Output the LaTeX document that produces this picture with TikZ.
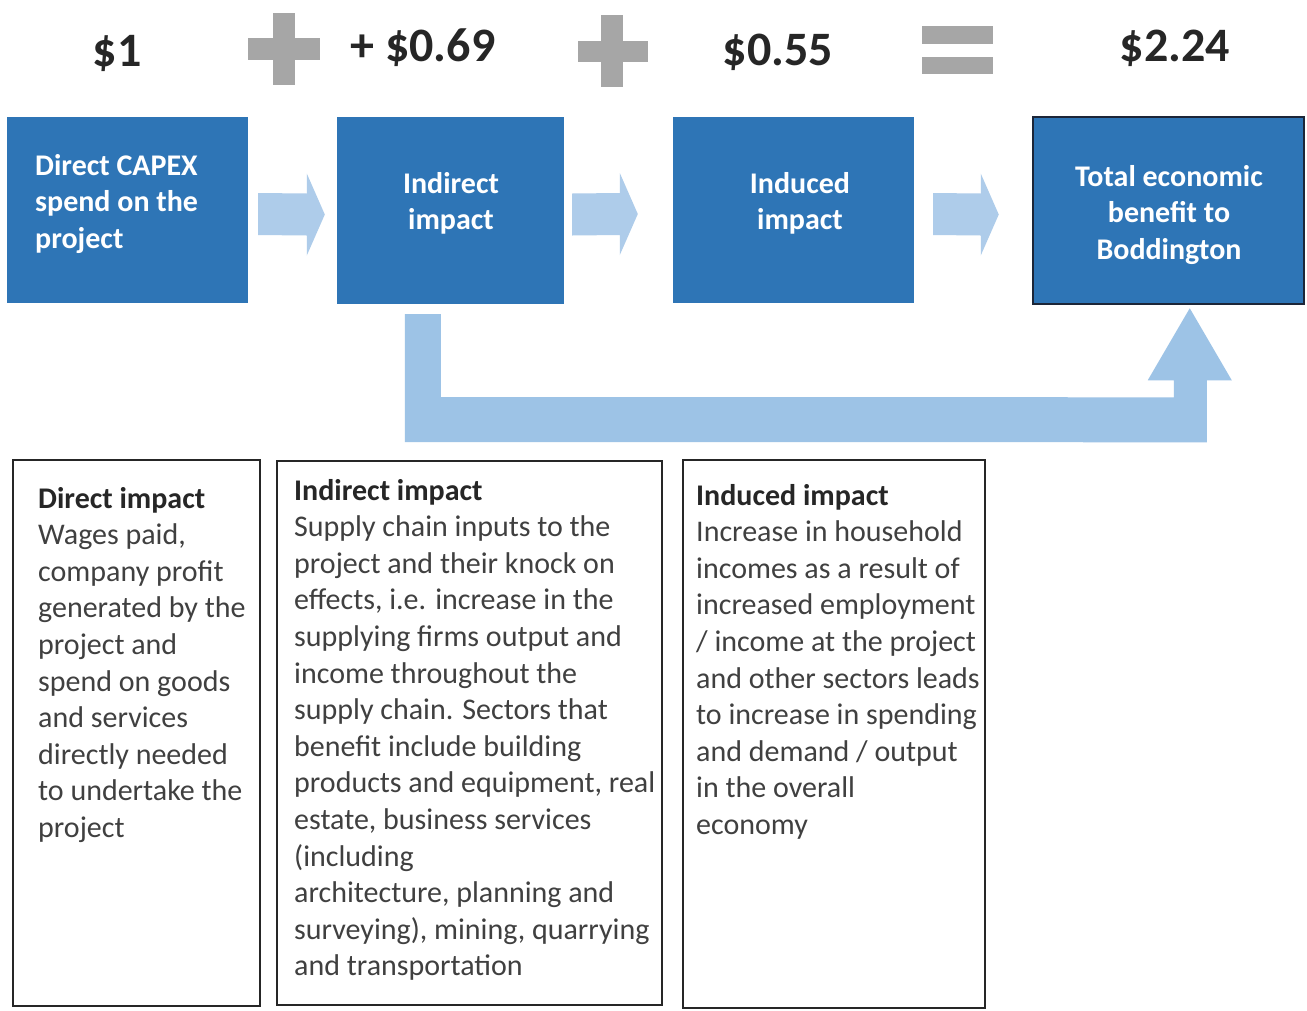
\documentclass[tikz,border=0pt]{standalone}
\usepackage{fontspec}
\setmainfont{Carlito}
\usetikzlibrary{calc}

\definecolor{boxblue}{HTML}{2E75B6}
\definecolor{flowblue}{HTML}{AECCEA}
\definecolor{loopblue}{HTML}{9DC3E6}
\definecolor{signgray}{HTML}{A6A6A6}
\definecolor{bodygray}{HTML}{404040}
\definecolor{headgray}{HTML}{262626}
\definecolor{framenavy}{HTML}{1C2638}

% block arrow pointing right, from #1 (tail middle) to #2 (tip)
\newcommand\flowarrow[2]{%
  \fill[flowblue] ($(#1)+(0,-21)$) -- ($(#2)+(-18,-21)$) -- ($(#2)+(-18,-41)$)
    -- (#2) -- ($(#2)+(-18,41)$) -- ($(#2)+(-18,21)$) -- ($(#1)+(0,21)$) -- cycle;}

\tikzset{
  stagebox/.style={fill=boxblue, inner sep=0pt},
  stagetext/.style={text=white, inner sep=0pt, font=\fontsize{30}{36.5}\selectfont\bfseries},
  amount/.style={text=headgray, inner sep=0pt, font=\fontsize{48}{56}\selectfont\bfseries},
  notebox/.style={draw=headgray, line width=2.5pt, inner sep=0pt},
  notetext/.style={text=bodygray, inner sep=0pt, font=\fontsize{30}{36.6}\selectfont},
}

\begin{document}
\begin{tikzpicture}[x=1pt, y=-1pt]
\fill[white] (0,0) rectangle (1307,1010);
\useasboundingbox (0,0) rectangle (1307,1010);

% amounts and operators
\node[amount, anchor=base] (v1) at (117,66) {\$1};
\node[amount, anchor=base] (v2) at (423,61) {+ \$0.69};
\node[amount, anchor=base] (v3) at (778,65) {\$0.55};
\node[amount, anchor=base] (v4) at (1175,61) {\$2.24};

\fill[signgray] (248,38) rectangle (320,60);
\fill[signgray] (273,13) rectangle (295,85);
\fill[signgray] (578,41) rectangle (648,62);
\fill[signgray] (601,15) rectangle (623,87);
\fill[signgray] (922,26) rectangle (993,44);
\fill[signgray] (922,57) rectangle (993,74);

% stage boxes
\node[stagebox, minimum width=241pt, minimum height=186pt] (b1) at (127.5,210) {};
\node[stagebox, minimum width=227pt, minimum height=187pt] (b2) at (450.5,210.5) {};
\node[stagebox, minimum width=241pt, minimum height=186pt] (b3) at (793.5,210) {};
\node[stagebox, draw=framenavy, line width=2.5pt, minimum width=271pt, minimum height=187pt] (b4) at (1168.5,210.5) {};

\node[stagetext, anchor=base west] (s1) at (35,175)
  {\parbox[t]{220pt}{Direct CAPEX\\spend on the\\project}};
\node[stagetext, anchor=base] (s2) at (451,193)
  {\parbox[t]{200pt}{\centering Indirect\\impact}};
\node[stagetext, anchor=base] (s3) at (800,193)
  {\parbox[t]{200pt}{\centering Induced\\impact}};
\node[stagetext, anchor=base] (s4) at (1169,186)
  {\parbox[t]{260pt}{\centering Total economic\\benefit to\\Boddington}};

% flow arrows between the stages
\coordinate (f1a) at ($(b1.east)+(10,4)$);
\coordinate (f1b) at ($(b2.west)+(-12,4)$);
\coordinate (f2a) at ($(b2.east)+(8,4)$);
\coordinate (f2b) at ($(b3.west)+(-35,4)$);
\coordinate (f3a) at ($(b3.east)+(19,4)$);
\coordinate (f3b) at ($(b4.west)+(-33,4)$);
\flowarrow{f1a}{f1b}
\flowarrow{f2a}{f2b}
\flowarrow{f3a}{f3b}

% return path from the indirect impact to the total
\coordinate (loopfrom) at ($(b2.south west)+(68,10)$);
\coordinate (loopto) at ($(b4.south west)+(158,3)$);
\fill[loopblue] (loopfrom) -- ($(loopfrom)+(36,0)$) -- ($(loopfrom)+(36,83)$)
  -- ($(loopto)+(-16,89)$) -- ($(loopto)+(-16,72)$) -- ($(loopto)+(-42,72)$)
  -- (loopto) -- ($(loopto)+(42,72)$) -- ($(loopto)+(17,72)$)
  -- ($(loopto)+(17,134)$) -- ($(loopfrom)+(0,128)$) -- cycle;

% explanatory notes
\node[notebox, minimum width=247pt, minimum height=546pt] (n1) at (136.5,733) {};
\node[notebox, minimum width=385pt, minimum height=544pt] (n2) at (469.5,733) {};
\node[notebox, minimum width=302pt, minimum height=548pt] (n3) at (834,734) {};

\node[notetext, anchor=base west] (d1) at (38,508)
  {\parbox[t]{300pt}{\textcolor{headgray}{\bfseries Direct impact}\\
  Wages paid,\\company profit\\generated by the\\project and\\spend on goods\\
  and services\\directly needed\\to undertake the\\project}};
\node[notetext, anchor=base west] (d2) at (294,500)
  {\parbox[t]{400pt}{\textcolor{headgray}{\bfseries Indirect impact}\\
  Supply chain inputs to the\\project and their knock on\\effects, i.e. increase in the\\
  supplying firms output and\\income throughout the\\supply chain. Sectors that\\
  benefit include building\\products and equipment, real\\estate, business services\\
  (including\\architecture, planning and\\surveying), mining, quarrying\\and transportation}};
\node[notetext, anchor=base west] (d3) at (696,505)
  {\parbox[t]{400pt}{\textcolor{headgray}{\bfseries Induced impact}\\
  Increase in household\\incomes as a result of\\increased employment\\
  / income at the project\\and other sectors leads\\to increase in spending\\
  and demand / output\\in the overall\\economy}};
\end{tikzpicture}
\end{document}
